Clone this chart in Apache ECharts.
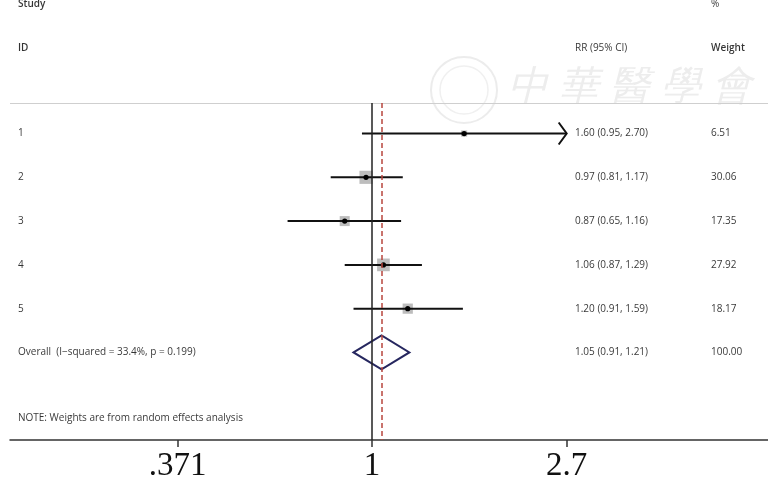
<!DOCTYPE html>
<html>
<head>
<meta charset="utf-8">
<script src="https://cdn.jsdelivr.net/npm/echarts@6/dist/echarts.min.js"></script>
<style>
html,body{margin:0;padding:0;background:#fff;}
#chart{width:768px;height:477px;}
</style>
</head>
<body>
<div id="chart"></div>
<script>
// ---- data ----
var studyIds = ['1', '2', '3', '4', '5'];
var rr = [1.60, 0.97, 0.87, 1.06, 1.20];
var ciLow = [0.95, 0.81, 0.65, 0.87, 0.91];
var ciHigh = [2.70, 1.17, 1.16, 1.29, 1.59];
var weights = [6.51, 30.06, 17.35, 27.92, 18.17];
var ciText = ['1.60 (0.95, 2.70)', '0.97 (0.81, 1.17)', '0.87 (0.65, 1.16)', '1.06 (0.87, 1.29)', '1.20 (0.91, 1.59)'];
var weightText = ['6.51', '30.06', '17.35', '27.92', '18.17'];
var overallLabel = 'Overall  (I\u2212squared = 33.4%, p = 0.199)';
var overall = [1.05, 0.91, 1.21];
var overallText = '1.05 (0.91, 1.21)';
var overallWeight = '100.00';
var noteText = 'NOTE: Weights are from random effects analysis';
var tickValues = [0.371, 1, 2.7];
var tickLabels = ['.371', '1', '2.7'];

// ---- build ----
var ln = Math.log;
var axisMinRR = tickValues[0], axisMaxRR = tickValues[tickValues.length - 1];
var studyData = rr.map(function (v, i) {
  return [ln(v), ln(ciLow[i]), ln(ciHigh[i]), i + 1, weights[i]];
});
var overallRow = studyIds.length + 1;
var noteRow = overallRow + 1.5;
var txtFont = '"Open Sans", "Noto Sans", sans-serif';

// text columns on a hidden helper axis (0..758)
var colStudy = 8, colCI = 565, colW = 701;
var textData = [];
function addText(x, y, t, w) { textData.push({ value: [x, y], label: { formatter: t, fontWeight: w || 'normal' } }); }
addText(colStudy, -1.95, 'Study', 600);
addText(colStudy, -0.95, 'ID', 600);
addText(colCI, -0.95, 'RR (95% CI)');
addText(colW, -1.95, '%');
addText(colW, -0.95, 'Weight', 600);
studyIds.forEach(function (s, i) {
  addText(colStudy, i + 1, s);
  addText(colCI, i + 1, ciText[i]);
  addText(colW, i + 1, weightText[i]);
});
addText(colStudy, overallRow, overallLabel);
addText(colCI, overallRow, overallText);
addText(colW, overallRow, overallWeight);
addText(colStudy, noteRow, noteText);

function renderStudy(params, api) {
  var est = api.value(0), lo = api.value(1), hi = api.value(2), row = api.value(3), w = api.value(4);
  var cMax = ln(axisMaxRR), cMin = ln(axisMinRR);
  var arrowR = hi >= cMax - 1e-9, arrowL = lo <= cMin + 1e-9;
  var pLo = api.coord([Math.max(lo, cMin), row]);
  var pHi = api.coord([Math.min(hi, cMax), row]);
  var pE = api.coord([est, row]);
  var side = 2.4 * Math.sqrt(w);
  var children = [
    { type: 'rect', shape: { x: pE[0] - side / 2, y: pE[1] - side / 2, width: side, height: side }, style: { fill: '#bdbdbd' } },
    { type: 'line', shape: { x1: pLo[0], y1: pLo[1], x2: pHi[0], y2: pHi[1] }, style: { stroke: '#111', lineWidth: 2 } },
    { type: 'circle', shape: { cx: pE[0], cy: pE[1], r: 2.6 }, style: { fill: '#000' } }
  ];
  if (arrowR) {
    children.push({ type: 'polyline', shape: { points: [[pHi[0] - 8, pHi[1] - 11], [pHi[0], pHi[1]], [pHi[0] - 8, pHi[1] + 11]] }, style: { stroke: '#111', lineWidth: 2, fill: null } });
  }
  if (arrowL) {
    children.push({ type: 'polyline', shape: { points: [[pLo[0] + 8, pLo[1] - 11], [pLo[0], pLo[1]], [pLo[0] + 8, pLo[1] + 11]] }, style: { stroke: '#111', lineWidth: 2, fill: null } });
  }
  return { type: 'group', children: children };
}

function renderDiamond(params, api) {
  var est = api.value(0), lo = api.value(1), hi = api.value(2), row = api.value(3);
  var pL = api.coord([lo, row]), pR = api.coord([hi, row]), pE = api.coord([est, row]);
  var h = 17;
  return {
    type: 'polygon',
    shape: { points: [[pL[0], pL[1]], [pE[0], pE[1] - h], [pR[0], pR[1]], [pE[0], pE[1] + h]] },
    style: { stroke: '#26275f', lineWidth: 2, fill: null }
  };
}

var chart = echarts.init(document.getElementById('chart'));
var option = {
  backgroundColor: '#fff',
  animation: false,
  grid: { left: 10, right: 0, top: 0, bottom: 37, containLabel: false, outerBoundsMode: 'none' },
  xAxis: [{
    type: 'value', min: -1.847, max: 2.0204,
    axisLine: { show: true, onZero: false, lineStyle: { color: '#333', width: 1.5 } },
    splitLine: { show: false },
    axisTick: { show: true, length: 7, lineStyle: { color: '#333', width: 1.5 }, customValues: tickValues.map(ln) },
    axisLabel: {
      customValues: tickValues.map(ln),
      margin: 10,
      fontFamily: '"Liberation Serif", "DejaVu Serif", serif',
      fontSize: 33, color: '#111',
      formatter: function (v) {
        var best = 0, bd = 1e9;
        tickValues.forEach(function (t, i) { var d = Math.abs(ln(t) - v); if (d < bd) { bd = d; best = i; } });
        return tickLabels[best];
      }
    }
  }, {
    type: 'value', min: 0, max: 758, show: false
  }],
  yAxis: { type: 'value', inverse: true, min: -2.05, max: 8, show: false },
  series: [
    {
      type: 'line', data: [], silent: true,
      markLine: {
        symbol: 'none', silent: true, label: { show: false },
        data: [
          [{ coord: [-1.847, 0.3] }, { coord: [2.0204, 0.3], lineStyle: { color: '#cfcfcf', width: 1, type: 'solid' } }],
          [{ coord: [0, 0.3] }, { coord: [0, 8], lineStyle: { color: '#222', width: 1.5, type: 'solid' } }],
          [{ coord: [ln(overall[0]), 0.3] }, { coord: [ln(overall[0]), 8], lineStyle: { color: '#b8463e', width: 1.5, type: [5, 3] } }]
        ]
      }
    },
    {
      type: 'custom', renderItem: renderStudy, data: studyData, clip: false, silent: true
    },
    {
      type: 'custom', renderItem: renderDiamond, data: [[ln(overall[0]), ln(overall[1]), ln(overall[2]), overallRow]], clip: false, silent: true
    },
    {
      type: 'scatter', xAxisIndex: 1, symbolSize: 0, data: textData, silent: true, clip: false,
      label: { show: true, position: 'right', distance: 0, color: '#000', fontSize: 10, fontFamily: txtFont }
    }
  ],
  graphic: [
    { type: 'circle', shape: { cx: 464, cy: 90, r: 33 }, style: { stroke: '#ececec', lineWidth: 2, fill: null }, z: -1 },
    { type: 'circle', shape: { cx: 464, cy: 90, r: 24 }, style: { stroke: '#f0f0f0', lineWidth: 1.5, fill: null }, z: -1 },
    { type: 'text', left: 508, top: 68, z: -1, style: { text: '中 華 醫 學 會', fontSize: 40, fontStyle: 'italic', fontWeight: 200, fill: '#ededed', font: 'italic 200 40px "Noto Sans CJK TC"' } }
  ]
};
chart.setOption(option);
</script>
</body>
</html>
